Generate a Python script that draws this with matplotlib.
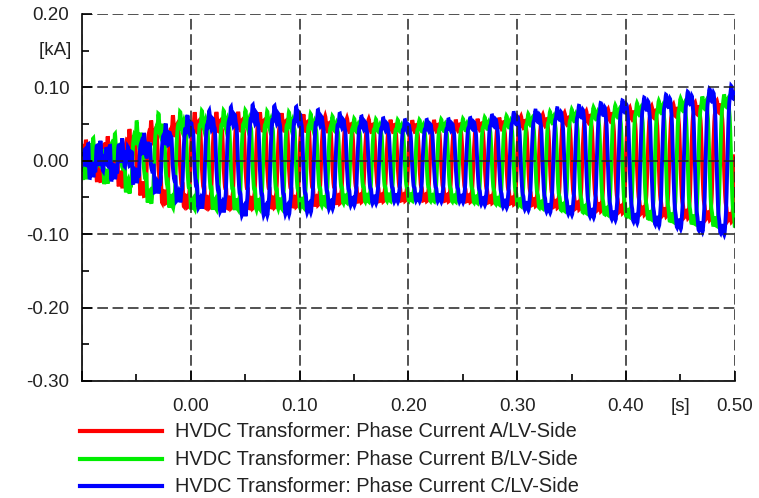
import numpy as np
import matplotlib
matplotlib.use("Agg")
import matplotlib.pyplot as plt
from matplotlib.lines import Line2D
from matplotlib.ticker import MultipleLocator, FixedLocator
from matplotlib.transforms import ScaledTranslation

plt.rcParams['font.family'] = ['Liberation Sans', 'DejaVu Sans']

# envelope of the three phase currents (kA)
t_env = [-0.10, -0.07, -0.05, -0.03, 0.00, 0.05, 0.10, 0.15, 0.20, 0.25, 0.30, 0.35, 0.40, 0.45, 0.50]
peak_a = [0.008, 0.015, 0.030, 0.044, 0.054, 0.056, 0.054, 0.050, 0.049, 0.050, 0.054, 0.060, 0.066, 0.072, 0.078]
peak_b = [0.008, 0.017, 0.036, 0.050, 0.056, 0.058, 0.056, 0.050, 0.049, 0.051, 0.056, 0.064, 0.071, 0.079, 0.086]
peak_c = [0.005, 0.009, 0.016, 0.032, 0.052, 0.066, 0.064, 0.054, 0.049, 0.051, 0.060, 0.068, 0.077, 0.087, 0.097]
# high frequency ripple riding on the currents (kA)
ripple = [0.017, 0.017, 0.015, 0.013, 0.011, 0.010, 0.009, 0.007, 0.006, 0.006, 0.006, 0.006, 0.006, 0.006, 0.006]
phase_deg = {"A": 0.0, "B": -120.0, "C": 120.0}
f_grid = 50.0

labels = ["HVDC Transformer: Phase Current A/LV-Side",
          "HVDC Transformer: Phase Current B/LV-Side",
          "HVDC Transformer: Phase Current C/LV-Side"]
colors = ["#ff0000", "#00ee00", "#0000ff"]

t = np.arange(-0.1, 0.5001, 0.0002)


def shape(th):
    return np.sin(th) + 0.2 * np.sin(3 * th)


norm = np.max(shape(np.linspace(0, 2 * np.pi, 2000)))


def phase_current(peaks, deg):
    th = 2 * np.pi * f_grid * t + np.radians(deg)
    amp = np.interp(t, t_env, peaks)
    rip = np.interp(t, t_env, ripple)
    harm = (0.55 * np.sin(2 * th + 0.7) + 0.6 * np.sin(5 * th + 1.3)
            + 0.45 * np.sin(7 * th - 0.4) + 0.3 * np.sin(11 * th + 2.1))
    return amp * shape(th) / norm + rip * harm


curves = [phase_current(peak_a, phase_deg["A"]),
          phase_current(peak_b, phase_deg["B"]),
          phase_current(peak_c, phase_deg["C"])]

fig = plt.figure(figsize=(7.59, 4.98), dpi=100)
ax = fig.add_axes([0.108, 0.235, 0.860, 0.737])

for y, c in zip(curves, colors):
    ax.plot(t, y, color=c, lw=2.8, solid_joinstyle="miter")

ax.set_xlim(-0.1, 0.5)
ax.set_ylim(-0.3, 0.2)

ax.spines['top'].set_visible(False)
ax.spines['right'].set_visible(False)
ax.spines['left'].set_linewidth(1.2)
ax.spines['bottom'].set_linewidth(1.2)

ax.xaxis.set_major_locator(FixedLocator([-0.1, 0.0, 0.1, 0.2, 0.3, 0.4, 0.5]))
ax.xaxis.set_minor_locator(MultipleLocator(0.05))
ax.yaxis.set_minor_locator(MultipleLocator(0.05))
ax.set_xticklabels(["", "0.00", "0.10", "0.20", "0.30", "0.40", "0.50"])
ax.set_yticks([-0.3, -0.2, -0.1, 0.0, 0.1, 0.2])
ax.set_yticklabels(["-0.30", "-0.20", "-0.10", "0.00", "0.10", "0.20"])

fs = 13.5
ax.tick_params(which="both", direction="in", color="black", labelsize=fs, labelcolor="#222222")
ax.tick_params(which="major", length=7, width=1.2)
ax.tick_params(which="minor", length=5, width=1.2)
ax.tick_params(axis="x", pad=12)
ax.tick_params(axis="y", pad=9)

ax.grid(True, which="major", color="#222222", linestyle=(0, (7, 3)), lw=1.1)
ax.set_axisbelow(False)

ax.text(-0.1, 0.15, "[kA]  ", ha="right", va="center", fontsize=fs,
        color="#222222", transform=ax.transData)
ax.text(0.45, -0.3, "[s]", ha="center", va="top", fontsize=fs, color="#222222",
        transform=ax.transData + ScaledTranslation(0, -0.17, fig.dpi_scale_trans))

# legend below the plot
leg_y = [1 - 431 / 498, 1 - 459 / 498, 1 - 486 / 498]
for ly, c, lab in zip(leg_y, colors, labels):
    fig.lines.append(Line2D([80 / 759, 162 / 759], [ly, ly], color=c, lw=3,
                            transform=fig.transFigure))
    fig.text(175 / 759, ly, lab, ha="left", va="center", fontsize=14.4, color="#222222")

fig.savefig("out.png", dpi=100)
